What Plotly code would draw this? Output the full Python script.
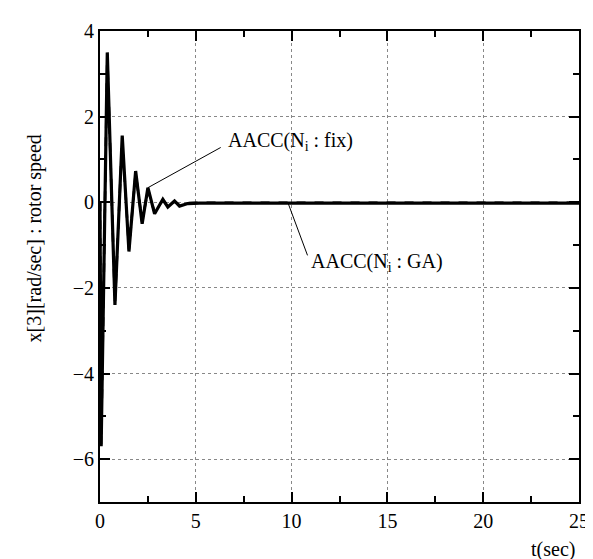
import plotly.graph_objects as go

# ---- data ----
t_fix = [0.0, 0.06, 0.38, 0.78, 1.16, 1.51, 1.86, 2.2, 2.5, 2.85, 3.28, 3.54, 3.89, 4.15, 4.58, 5.2, 10.0, 15.0, 20.0, 25.0]
y_fix = [0.0, -5.7, 3.5, -2.4, 1.56, -1.15, 0.73, -0.5, 0.34, -0.27, 0.07, -0.11, 0.03, -0.09, -0.03, -0.02, -0.02, -0.02, -0.02, -0.02]

t_ga = [0.0, 0.06, 0.38, 0.78, 1.16, 1.51, 1.86, 2.2, 2.5, 2.85, 3.28, 3.54, 3.89, 4.15, 4.58, 5.2, 10.0, 15.0, 20.0, 25.0]
y_ga = [0.0, -5.65, 3.45, -2.35, 1.5, -1.1, 0.68, -0.46, 0.3, -0.24, 0.05, -0.09, 0.02, -0.07, -0.02, -0.01, -0.01, -0.01, -0.01, -0.01]

x_ticks = [0, 5, 10, 15, 20, 25]
y_ticks = [-6, -4, -2, 0, 2, 4]
x_range = [0, 25]
y_range = [-7, 4]

label_fix = "AACC(N<sub>i</sub> : fix)"
label_ga = "AACC(N<sub>i</sub> : GA)"
x_title = "t(sec)"
y_title = "x[3][rad/sec] : rotor speed"

FONT = "Liberation Serif, Times New Roman, serif"

fig = go.Figure()
fig.add_trace(go.Scatter(x=t_fix, y=y_fix, mode="lines", name=label_fix,
                         line=dict(color="black", width=3.2), showlegend=False))
fig.add_trace(go.Scatter(x=t_ga, y=y_ga, mode="lines", name=label_ga,
                         line=dict(color="black", width=2.5, dash="dash"), showlegend=False))

axis_common = dict(
    showline=True, linecolor="black", linewidth=2, mirror="allticks",
    ticks="inside", ticklen=10, tickwidth=2, tickcolor="black",
    showgrid=True, gridcolor="#888888", gridwidth=1, griddash="dot",
    zeroline=False,
    tickfont=dict(family=FONT, size=20, color="black"),
)

fig.update_xaxes(range=x_range, tickvals=x_ticks,
                 minor=dict(dtick=2.5, tick0=0, ticks="inside", ticklen=6, tickwidth=2,
                            tickcolor="black", showgrid=False),
                 **axis_common)
fig.update_yaxes(range=y_range, tickvals=y_ticks,
                 minor=dict(dtick=1, tick0=0, ticks="inside", ticklen=6, tickwidth=2,
                            tickcolor="black", showgrid=False),
                 **axis_common)

# leader lines
fig.add_shape(type="line", xref="x", yref="y", x0=2.5, y0=0.34, x1=6.3, y1=1.28,
              line=dict(color="black", width=1))
fig.add_shape(type="line", xref="x", yref="y", x0=9.8, y0=0.0, x1=10.83, y1=-1.24,
              line=dict(color="black", width=1))

fig.add_annotation(x=6.55, y=1.42, xref="x", yref="y", text=label_fix, showarrow=False,
                   xanchor="left", yanchor="middle",
                   font=dict(family=FONT, size=20, color="black"))
fig.add_annotation(x=10.9, y=-1.4, xref="x", yref="y", text=label_ga, showarrow=False,
                   xanchor="left", yanchor="middle",
                   font=dict(family=FONT, size=20, color="black"))

fig.add_annotation(x=0.946, y=-0.1, xref="paper", yref="paper", text=x_title,
                   showarrow=False, xanchor="center", yanchor="middle", borderpad=0,
                   font=dict(family=FONT, size=20, color="black"))
fig.add_annotation(x=-0.1375, y=0.56, xref="paper", yref="paper", text=y_title,
                   showarrow=False, textangle=-90, xanchor="center", yanchor="middle",
                   font=dict(family=FONT, size=20, color="black"))

fig.update_layout(
    width=593, height=559,
    margin=dict(l=92, r=21, t=14, b=65),
    paper_bgcolor="white", plot_bgcolor="white",
    font=dict(family=FONT, size=20, color="black"),
)

fig.write_html("out.html")
